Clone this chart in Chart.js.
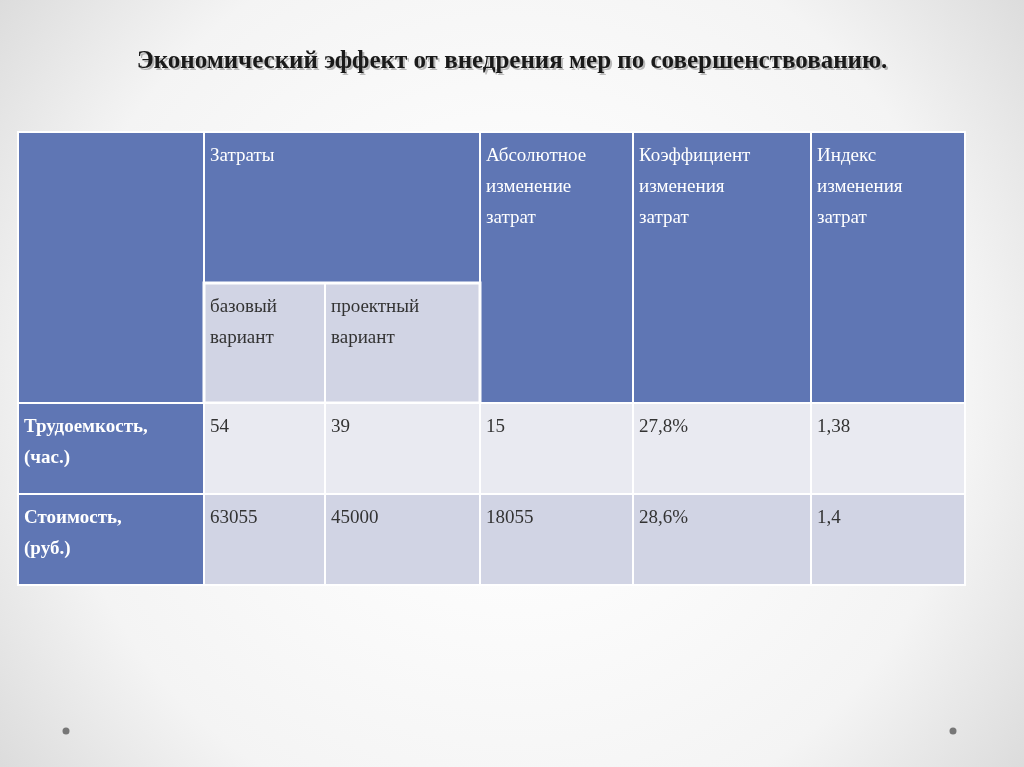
<!DOCTYPE html><html><head><meta charset="utf-8">
<script src="https://cdn.jsdelivr.net/npm/chart.js@4"></script>
<style>html,body{margin:0;padding:0;overflow:hidden}#c{display:block}</style></head><body>
<div style="width:1024px;height:767px"><canvas id="c"></canvas></div>
<script>
const title="Экономический эффект от внедрения мер по совершенствованию.";
const headTop=["","Затраты","Абсолютное\nизменение\nзатрат","Коэффициент\nизменения\nзатрат","Индекс\nизменения\nзатрат"];
const headSub=["базовый\nвариант","проектный\nвариант"];
const rowLabels=["Трудоемкость,\n(час.)","Стоимость,\n(руб.)"];
const rowValues=[["54","39","15","27,8%","1,38"],["63055","45000","18055","28,6%","1,4"]];
const colEdges=[18,204,325,480,633,811,965];
const rowEdges=[132,283,403,494,585];
const BLUE="#5f76b4", L1="#e9eaf1", L2="#d1d4e4";
const plugin={id:'tbl',beforeDraw(ch){
 const c=ch.ctx,X=ch.scales.x,Y=ch.scales.y;
 const px=v=>X.getPixelForValue(v),py=v=>Y.getPixelForValue(v);
 const g=c.createRadialGradient(512,380,100,512,380,700);
 g.addColorStop(0,"#ffffff");g.addColorStop(0.6,"#f4f4f4");g.addColorStop(1,"#d4d4d4");
 c.fillStyle=g;c.fillRect(0,0,1024,767);
 c.fillStyle="#777";[[66,731],[953,731]].forEach(p=>{c.beginPath();c.arc(px(p[0]),py(p[1]),3.5,0,7);c.fill();});
 c.save();c.font="bold 25px 'Liberation Serif'";c.textAlign="center";c.textBaseline="middle";
 c.fillStyle="rgba(0,0,0,0.25)";c.fillText(title,px(514),py(64));c.fillStyle="#1a1a1a";c.fillText(title,px(512),py(62));c.restore();
 const cell=(x0,y0,x1,y1,col)=>{c.fillStyle=col;c.fillRect(px(x0),py(y0),px(x1)-px(x0),py(y1)-py(y0));c.strokeStyle="#fff";c.lineWidth=2;c.strokeRect(px(x0),py(y0),px(x1)-px(x0),py(y1)-py(y0));};
 const txt=(s,x,y,col,bold)=>{c.font=(bold?"bold ":"")+"19px 'Liberation Serif'";c.fillStyle=col;c.textBaseline="alphabetic";c.textAlign="left";s.split("\n").forEach((l,i)=>c.fillText(l,px(x+6),py(y+29+i*31)));};
 const C=colEdges,R=rowEdges;
 cell(C[0],R[0],C[1],R[2],BLUE);
 cell(C[1],R[0],C[3],R[1],BLUE);txt(headTop[1],C[1],R[0],"#fff");
 for(let k=3;k<6;k++){cell(C[k],R[0],C[k+1],R[2],BLUE);txt(headTop[k-1],C[k],R[0],"#fff");}
 for(let k=1;k<3;k++){cell(C[k],R[1],C[k+1],R[2],L2);txt(headSub[k-1],C[k],R[1],"#333");}
 c.strokeStyle="#fff";c.lineWidth=3;c.strokeRect(px(C[1]),py(R[1]),px(C[3])-px(C[1]),py(R[2])-py(R[1]));
 rowLabels.forEach((lab,r)=>{cell(C[0],R[r+2],C[1],R[r+3],BLUE);txt(lab,C[0],R[r+2],"#fff",true);
  rowValues[r].forEach((v,k)=>{cell(C[k+1],R[r+2],C[k+2],R[r+3],r?L2:L1);txt(v,C[k+1],R[r+2],"#333");});});
}};
new Chart(document.getElementById('c'),{type:'scatter',data:{datasets:[{data:[]}]},
 options:{responsive:true,maintainAspectRatio:false,animation:false,layout:{padding:0},
 plugins:{legend:{display:false},tooltip:{enabled:false}},
 scales:{x:{type:'linear',min:0,max:1024,display:false},y:{type:'linear',min:0,max:767,reverse:true,display:false}}},
 plugins:[plugin]});
</script></body></html>
